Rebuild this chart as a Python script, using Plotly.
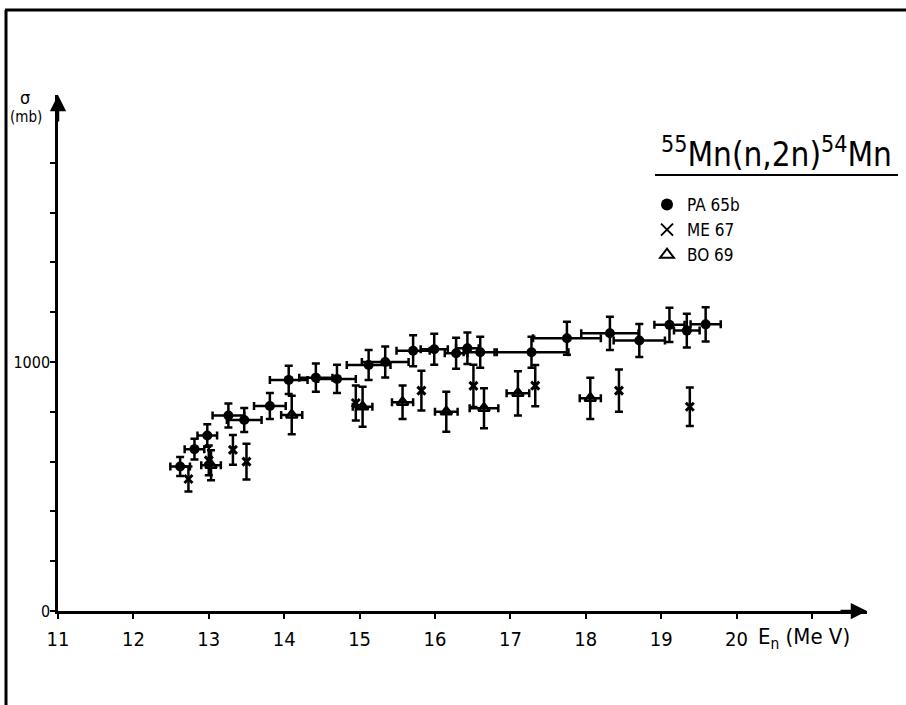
import plotly.graph_objects as go

# ---- data ----
pa_E = [12.62, 12.81, 12.98, 13.26, 13.47, 13.81, 14.06, 14.42, 14.70, 15.12, 15.34, 15.71,
        15.99, 16.28, 16.43, 16.60, 17.28, 17.75, 18.32, 18.71, 19.11, 19.34, 19.59]
pa_sig = [580, 650, 705, 785, 767, 823, 928, 937, 932, 988, 1000, 1045,
          1051, 1035, 1055, 1039, 1039, 1095, 1115, 1086, 1149, 1126, 1151]
pa_dsig = [38, 42, 45, 48, 48, 52, 57, 57, 57, 60, 62, 62,
           62, 62, 63, 62, 62, 66, 67, 66, 69, 68, 69]
pa_dE = [0.13, 0.13, 0.13, 0.21, 0.23, 0.21, 0.25, 0.22, 0.25, 0.29, 0.31, 0.22,
         0.18, 0.15, 0.15, 0.22, 0.49, 0.45, 0.38, 0.34, 0.2, 0.17, 0.2]

me_E = [12.73, 13.00, 13.32, 13.50, 14.95, 15.82, 16.51, 17.33, 18.44, 19.38]
me_sig = [530, 605, 647, 600, 835, 885, 904, 905, 885, 820]
me_dsig = [50, 60, 60, 72, 70, 80, 85, 83, 85, 77]

bo_E = [13.03, 14.10, 15.04, 15.57, 16.15, 16.65, 17.10, 18.06]
bo_sig = [585, 787, 820, 838, 800, 814, 874, 854]
bo_dsig = [60, 77, 80, 67, 80, 80, 89, 83]
bo_dE = [0.13, 0.14, 0.13, 0.14, 0.15, 0.19, 0.15, 0.14]

x_ticks = [11, 12, 13, 14, 15, 16, 17, 18, 19, 20, 21]
x_ticktext = ["11", "12", "13", "14", "15", "16", "17", "18", "19", "20", ""]
y_ticks = [0, 200, 400, 600, 800, 1000, 1200, 1400, 1600, 1800]
y_ticktext = ["0", "", "", "", "", "1000", "", "", "", ""]

FONT = "DejaVu Sans Condensed, DejaVu Sans, sans-serif"
BLK = "black"

fig = go.Figure()

errstyle = dict(color=BLK, thickness=2.5, width=4)

fig.add_trace(go.Scatter(
    x=pa_E, y=pa_sig, mode="markers", name="PA 65b",
    marker=dict(symbol="circle", size=10, color=BLK),
    error_y=dict(type="data", array=pa_dsig, **errstyle),
    error_x=dict(type="data", array=pa_dE, **errstyle),
))
fig.add_trace(go.Scatter(
    x=me_E, y=me_sig, mode="markers", name="ME 67",
    marker=dict(symbol="x-thin", size=8, color=BLK, line=dict(width=3, color=BLK)),
    error_y=dict(type="data", array=me_dsig, **errstyle),
))
fig.add_trace(go.Scatter(
    x=bo_E, y=bo_sig, mode="markers", name="BO 69",
    marker=dict(symbol="triangle-up-open", size=10, color=BLK, line=dict(width=2.5, color=BLK)),
    error_y=dict(type="data", array=bo_dsig, **errstyle),
    error_x=dict(type="data", array=bo_dE, **errstyle),
))

# geometry in screen pixels (page body margin removed below)
W, H = 906, 705
L, R, T, B = 58, 867, 95, 611          # plot area
def px(xp):
    return (xp - L) / (R - L)
def py(yp):
    return (B - yp) / (B - T)

fig.update_layout(
    width=W, height=H,
    margin=dict(l=L, r=W - R, t=T, b=H - B, autoexpand=False),
    paper_bgcolor="white", plot_bgcolor="white",
    font=dict(family=FONT, color=BLK, size=17),
    showlegend=True,
    legend=dict(x=px(647), y=py(187), xanchor="left", yanchor="top",
                font=dict(size=17, family=FONT), bgcolor="rgba(0,0,0,0)",
                itemsizing="constant", tracegroupgap=0),
    xaxis=dict(range=[11, 21.73], showgrid=False, zeroline=False, automargin=False,
               showline=True, linecolor=BLK, linewidth=2.5,
               tickvals=x_ticks, ticktext=x_ticktext, ticks="outside",
               ticklen=5, tickwidth=2, tickcolor=BLK, ticklabelstandoff=3,
               tickfont=dict(size=20)),
    yaxis=dict(range=[0, 2072], showgrid=False, zeroline=False, automargin=False,
               showline=True, linecolor=BLK, linewidth=2.5,
               tickvals=y_ticks, ticktext=y_ticktext, ticks="outside",
               ticklen=5, tickwidth=2, tickcolor=BLK, ticklabelstandoff=-3,
               tickfont=dict(size=16)),
)

# frame lines of the scanned page
fig.add_shape(type="line", xref="paper", yref="paper",
              x0=px(5), x1=px(910), y0=py(10), y1=py(10),
              line=dict(color=BLK, width=3))
fig.add_shape(type="line", xref="paper", yref="paper",
              x0=px(6), x1=px(6), y0=py(10), y1=py(710),
              line=dict(color=BLK, width=3))
# title underline
fig.add_shape(type="line", xref="paper", yref="paper",
              x0=px(655), x1=px(898), y0=py(175), y1=py(175),
              line=dict(color=BLK, width=2))

# axis arrowheads
fig.add_annotation(x=21.73, y=0, xref="x", yref="y", ax=-28, ay=0, text="",
                   showarrow=True, arrowhead=2, arrowsize=1.3, arrowwidth=2.5, arrowcolor=BLK)
fig.add_annotation(x=11, y=2072, xref="x", yref="y", ax=0, ay=28, text="",
                   showarrow=True, arrowhead=2, arrowsize=1.3, arrowwidth=2.5, arrowcolor=BLK)

# texts
fig.add_annotation(x=px(776), y=py(152), xref="paper", yref="paper",
                   text="<sup>55</sup>Mn(n,2n)<sup>54</sup>Mn", showarrow=False,
                   font=dict(size=33, family=FONT), xanchor="center", yanchor="middle")
fig.add_annotation(x=px(25), y=py(97), xref="paper", yref="paper",
                   text="σ", showarrow=False, font=dict(size=18, family=FONT),
                   xanchor="center", yanchor="middle")
fig.add_annotation(x=px(26), y=py(117), xref="paper", yref="paper",
                   text="(mb)", showarrow=False, font=dict(size=15, family=FONT),
                   xanchor="center", yanchor="middle")
fig.add_annotation(x=px(756), y=py(638), xref="paper", yref="paper",
                   text="E<sub>n</sub> (Me V)", showarrow=False, font=dict(size=22, family=FONT),
                   xanchor="left", yanchor="middle")

fig.write_html("out.html", config={"displayModeBar": False},
               post_script="document.body.style.margin='0px';")
